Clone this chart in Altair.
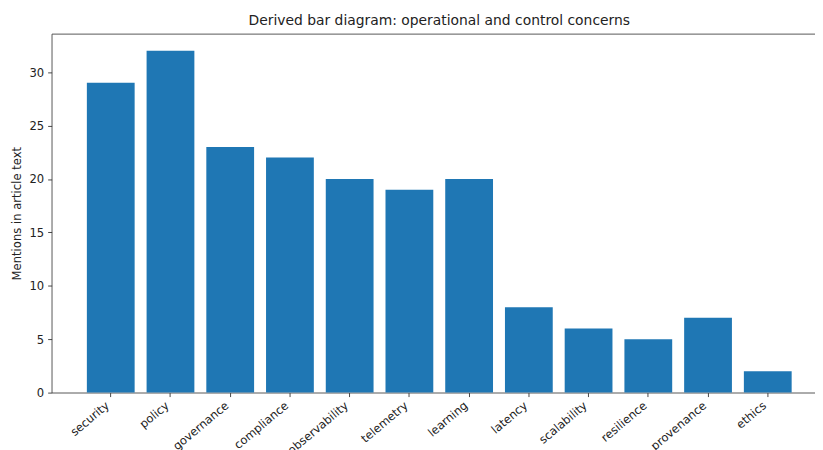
import altair as alt
import pandas as pd

categories = ["security", "policy", "governance", "compliance", "observability",
              "telemetry", "learning", "latency", "scalability", "resilience",
              "provenance", "ethics"]
mentions = [29, 32, 23, 22, 20, 19, 20, 8, 6, 5, 7, 2]
y_ticks = [0, 5, 10, 15, 20, 25, 30]

df = pd.DataFrame({"category": categories, "mentions": mentions})

FONT = "DejaVu Sans"
W, H = 782, 362
FS = 11.7

chart = alt.Chart(df).mark_bar(color="#1f77b4").encode(
    x=alt.X("category:N", sort=categories,
            scale=alt.Scale(paddingInner=0.2, paddingOuter=0.59),
            axis=alt.Axis(title=None, labelAngle=-40, labelAlign="right",
                          labelBaseline="top", labelPadding=3, labelOffset=-6.5,
                          tickSize=4, domain=False, tickColor="#333", tickWidth=0.9,
                          labelColor="#222", labelFont=FONT, labelFontSize=FS)),
    y=alt.Y("mentions:Q", scale=alt.Scale(domain=[0, 33.6], nice=False),
            axis=alt.Axis(title="Mentions in article text", values=y_ticks,
                          grid=False, domain=False, tickSize=4, tickColor="#333",
                          tickWidth=0.9, labelPadding=4, labelColor="#222",
                          labelFont=FONT, labelFontSize=FS,
                          titleFont=FONT, titleFontSize=FS, titleFontWeight="normal",
                          titleColor="#222", titleAngle=-90, titleX=-35, titleY=H / 2,
                          titleAlign="center", titleBaseline="middle")),
).properties(
    width=W, height=H,
    title=alt.TitleParams("Derived bar diagram: operational and control concerns",
                          font=FONT, fontSize=14, fontWeight="normal", color="#222",
                          anchor="middle", offset=6),
    autosize=alt.AutoSizeParams(type="none"),
    padding={"left": 44, "top": 24, "right": -12, "bottom": 62},
).configure(
    background="white"
).configure_view(
    stroke="#444", strokeWidth=0.9
)

chart.save("out.html", embed_options={"renderer": "svg", "actions": False})
